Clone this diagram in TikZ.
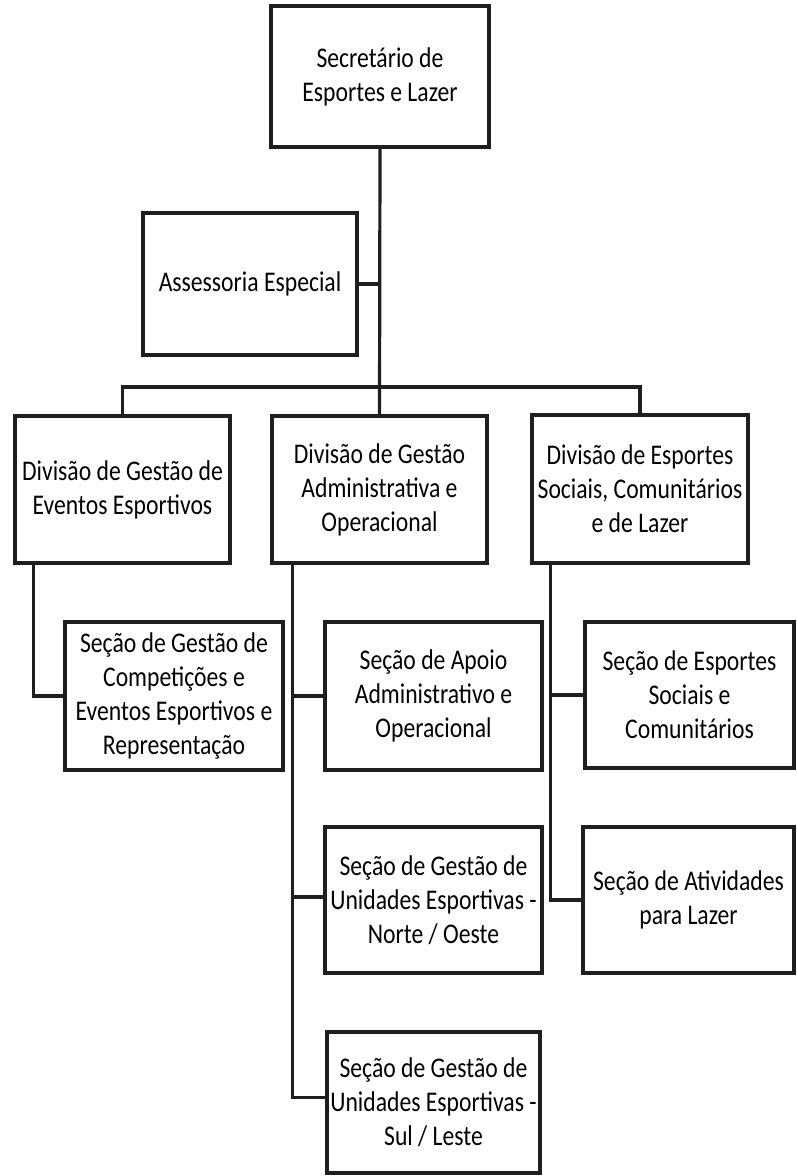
\documentclass[tikz,border=0pt]{standalone}
\usepackage{fontspec}
\setmainfont{Carlito}[FakeStretch=0.83]
\begin{document}
\begin{tikzpicture}[x=1pt,y=-1pt,
  box/.style={draw=black!88,line width=3.2pt,fill=white,align=center,
    inner sep=2pt,font=\fontsize{28.5}{34}\selectfont,text=black},
  link/.style={draw=black!88,line width=3.2pt}]
\useasboundingbox (0,0) rectangle (796,1176);

% boxes
\node[box,minimum width=218pt,minimum height=141pt] (sec) at (380,76.5) {Secretário de\\Esportes e Lazer};
\node[box,minimum width=214pt,minimum height=142pt] (ase) at (250,284) {Assessoria Especial};
\node[box,minimum width=215pt,minimum height=147pt] (ldiv) at (122.5,489.5) {Divisão de Gestão de\\Eventos Esportivos};
\node[box,minimum width=215pt,minimum height=147pt] (mdiv) at (379.5,489.5) {Divisão de Gestão\\Administrativa e\\Operacional};
\node[box,minimum width=216pt,minimum height=148pt] (rdiv) at (640,489) {Divisão de Esportes\\Sociais, Comunitários\\e de Lazer};
\node[box,minimum width=218pt,minimum height=148pt] (lsec) at (174,696) {Seção de Gestão de\\Competições e\\Eventos Esportivos e\\Representação};
\node[box,minimum width=217pt,minimum height=148pt] (apo) at (433.5,696) {Seção de Apoio\\Administrativo e\\Operacional};
\node[box,minimum width=209pt,minimum height=146pt] (soc) at (689.5,695) {Seção de Esportes\\Sociais e\\Comunitários};
\node[box,minimum width=217pt,minimum height=146pt] (nor) at (433.5,900) {Seção de Gestão de\\Unidades Esportivas -\\Norte / Oeste};
\node[box,minimum width=211pt,minimum height=146pt] (ati) at (688.5,900) {Seção de Atividades\\para Lazer};
\node[box,minimum width=213pt,minimum height=141pt] (sul) at (433.5,1102.5) {Seção de Gestão de\\Unidades Esportivas -\\Sul / Leste};

% spine points
\coordinate (bar) at (380,387);
\coordinate (lsp) at ([xshift=20pt]ldiv.south west);
\coordinate (msp) at ([xshift=22pt]mdiv.south west);
\coordinate (rsp) at ([xshift=20pt]rdiv.south west);
\coordinate (norin) at ([yshift=3pt]nor.west);
\coordinate (sulin) at ([yshift=5pt]sul.west);

% connectors
\draw[link] (sec.south) -- (mdiv.north);
\draw[link] (ase.east) -- (ase.east -| sec.south);
\draw[link] (ldiv.north) |- (bar) -| (rdiv.north);
\draw[link] (lsp) |- (lsec.west);
\draw[link] (msp) |- (sulin);
\draw[link] (apo.west) -- (apo.west -| msp);
\draw[link] (norin) -- (norin -| msp);
\draw[link] (rsp) |- (ati.west);
\draw[link] (soc.west) -- (soc.west -| rsp);
\end{tikzpicture}
\end{document}
